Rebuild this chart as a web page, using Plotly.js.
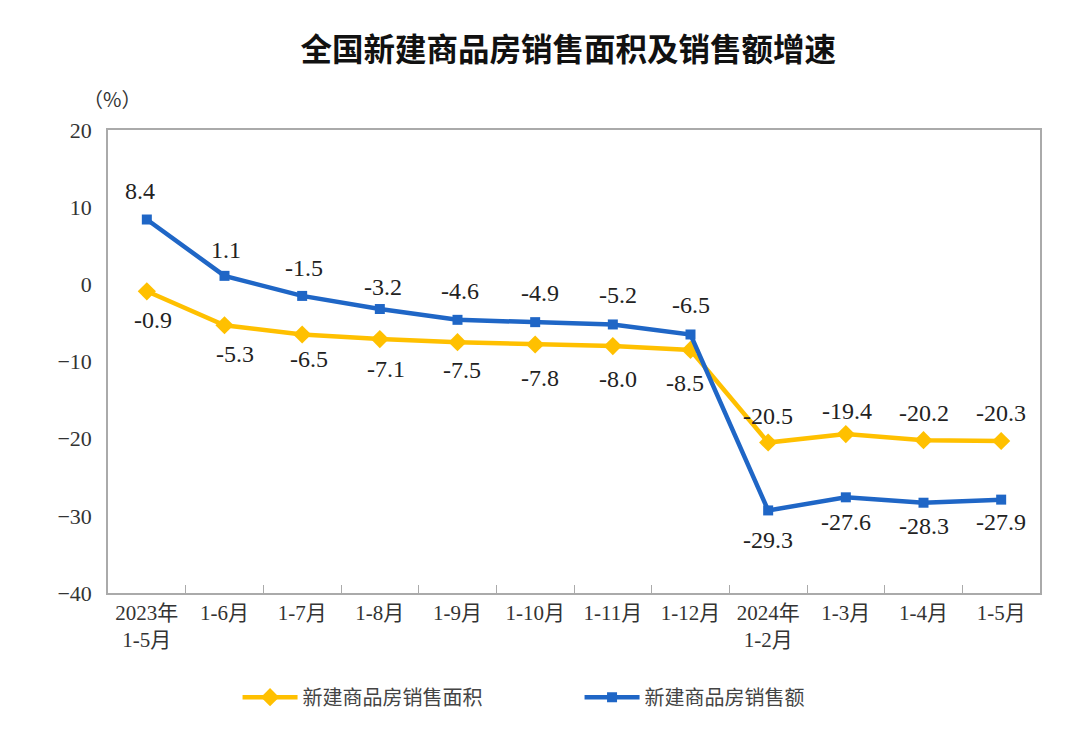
<!DOCTYPE html>
<html><head><meta charset="utf-8">
<script src="https://cdn.plot.ly/plotly-3.0.1.min.js"></script>
<style>body{margin:0;background:#fff}#c{width:1066px;height:741px}</style>
</head><body><div id="c"></div>
<script>
const categories = ["2023年<br>1-5月","1-6月","1-7月","1-8月","1-9月","1-10月","1-11月","1-12月","2024年<br>1-2月","1-3月","1-4月","1-5月"];
const areaGrowth = [-0.9,-5.3,-6.5,-7.1,-7.5,-7.8,-8.0,-8.5,-20.5,-19.4,-20.2,-20.3];
const salesGrowth = [8.4,1.1,-1.5,-3.2,-4.6,-4.9,-5.2,-6.5,-29.3,-27.6,-28.3,-27.9];
const yTicks = [20,10,0,-10,-20,-30,-40];

const serif = "Liberation Serif, Times New Roman, Noto Sans CJK SC, serif";
const cjk = "Noto Sans CJK SC, serif";
// label offsets (pixels) relative to each point
const areaShift = [[6,29],[10,29],[7,25],[6,30],[4,28],[5,33],[5,33],[-6,33],[0,-27],[1,-23],[0,-27],[0,-28]];
const salesShift = [[-7,-29],[1,-26],[2,-28],[3,-22],[2,-29],[5,-29],[5,-29],[0,-29],[0,30],[0,25],[0,23],[0,22]];

const fmt = v => v.toFixed(1);
const traces = [
 {x: categories, y: areaGrowth, name: "新建商品房销售面积", type: "scatter", mode: "lines+markers",
  line: {color: "#FFC000", width: 4.5}, marker: {symbol: "diamond", size: 14, color: "#FFC000"}, cliponaxis: false},
 {x: categories, y: salesGrowth, name: "新建商品房销售额", type: "scatter", mode: "lines+markers",
  line: {color: "#1F66C6", width: 4.5}, marker: {symbol: "square", size: 10, color: "#1F66C6"}, cliponaxis: false}
];
const labelFont = {family: serif, size: 24, color: "#222"};
const annotations = [];
areaGrowth.forEach((v, i) => annotations.push({x: categories[i], y: v, text: fmt(v), showarrow: false,
  xshift: areaShift[i][0], yshift: -areaShift[i][1], font: labelFont}));
salesGrowth.forEach((v, i) => annotations.push({x: categories[i], y: v, text: fmt(v), showarrow: false,
  xshift: salesShift[i][0], yshift: -salesShift[i][1], font: labelFont}));
annotations.push({text: "（%）", xref: "paper", yref: "paper", x: 0.004, y: 1.068, xanchor: "center", yanchor: "middle", showarrow: false,
   font: {family: cjk, size: 20, color: "#333"}});

const layout = {
 width: 1066, height: 741,
 margin: {l: 108, r: 26, t: 130, b: 148},
 paper_bgcolor: "#fff", plot_bgcolor: "#fff",
 title: {text: "<b>全国新建商品房销售面积及销售额增速</b>", font: {family: cjk, size: 31.5, color: "#111"}, x: 0.533, xanchor: "center", y: 0.932, yanchor: "middle"},
 font: {family: serif, color: "#333"},
 xaxis: {type: "category", showline: true, linecolor: "#aaa", linewidth: 1.5, mirror: true,
   ticks: "inside", tickson: "boundaries", ticklen: 8, tickcolor: "#aaa", showgrid: false,
   tickfont: {family: serif, size: 21, color: "#333"}, range: [-0.5, 11.5]},
 yaxis: {range: [-40, 20], tickvals: yTicks, showline: true, linecolor: "#aaa", linewidth: 1.5, mirror: true,
   showgrid: false, zeroline: false, ticks: "", ticklabelstandoff: 10, tickfont: {family: serif, size: 22, color: "#333"}},
 showlegend: true,
 legend: {orientation: "h", x: 0.139, xanchor: "left", y: -0.225, yanchor: "middle",
   font: {family: cjk, size: 20, color: "#444"}, entrywidth: 272, itemwidth: 55},
 annotations: annotations
};
Plotly.newPlot("c", traces, layout, {displayModeBar: false});
</script></body></html>
